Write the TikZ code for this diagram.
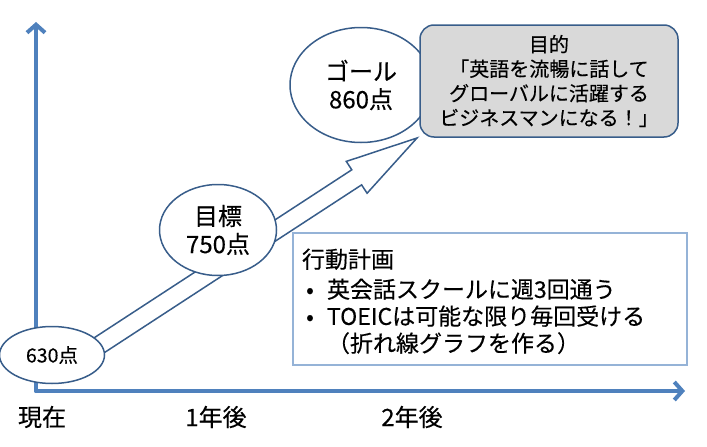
\documentclass[tikz,border=0pt]{standalone}
\usepackage{fontspec}
\setmainfont[FakeBold=0.3]{Noto Sans CJK JP}
\usetikzlibrary{shapes.geometric,arrows.meta,calc}
\definecolor{axisblue}{HTML}{4F81BD}
\definecolor{edgeblue}{HTML}{385D8A}
\definecolor{planedge}{HTML}{95B3D7}
\definecolor{goalgray}{HTML}{D9D9D9}
\begin{document}
\begin{tikzpicture}[x=1pt,y=-1pt,
  axisline/.style={draw=axisblue,line width=4pt,-{Straight Barb[length=8pt,width=18pt]},line cap=round,line join=round},
  scoreell/.style={ellipse,draw=edgeblue,fill=white,line width=1.5pt,inner sep=0pt,align=center,font=\fontsize{24pt}{28pt}\selectfont},
  blockarrow/.style={draw=edgeblue,fill=white,line width=1.5pt,line join=miter},
  goalbox/.style={rectangle,rounded corners=14pt,draw=edgeblue,fill=goalgray,line width=1.5pt,minimum width=258pt,minimum height=112pt,align=center,font=\fontsize{20pt}{24.5pt}\selectfont},
  planbox/.style={rectangle,draw=planedge,fill=white,line width=1.3pt,minimum width=394pt,minimum height=132pt,inner xsep=9pt,text width=376pt,align=left,font=\fontsize{23pt}{27pt}\selectfont},
  axislabel/.style={font=\fontsize{24pt}{28pt}\selectfont,inner sep=0pt}
]
\useasboundingbox (0,0) rectangle (707,447);
% axes
\coordinate (origin) at (36,391);
\coordinate (ytop) at (36,22);
\coordinate (xend) at (685,391);
\draw[axisline] (origin) -- (ytop);
\draw[axisline] (origin) -- (xend);
% block arrow
\coordinate (tl) at (72,363);
\coordinate (tp) at (417,138);
\coordinate (hb) at ($(tp)!72pt!(tl)$);
\draw[blockarrow] ($(tl)!9pt!90:(tp)$) -- ($(hb)!9pt!90:(tp)$) -- ($(hb)!19pt!90:(tp)$) -- (tp) -- ($(hb)!19pt!-90:(tp)$) -- ($(hb)!9pt!-90:(tp)$) -- ($(tl)!9pt!-90:(tp)$) -- cycle;
% score ellipses
\node[scoreell,minimum width=105pt,minimum height=57pt,font=\fontsize{19.5pt}{22pt}\selectfont] (now) at (52,355) {630点};
\node[scoreell,minimum width=117pt,minimum height=91pt] (mid) at (218,230) {目標\\750点};
\node[scoreell,minimum width=142pt,minimum height=115pt] (goal) at (361,85) {ゴール\\860点};
% purpose box
\node[goalbox] (purpose) at (549,81) {目的\\「英語を流暢に話して\\グローバルに活躍する\\ビジネスマンになる！」};
% plan box
\node[planbox] (plan) at (490,299) {\rule{0pt}{24pt}行動計画\\[3pt]
\makebox[16pt][c]{•}\hspace{9pt}英会話スクールに週3回通う\\
\makebox[16pt][c]{•}\hspace{9pt}TOEICは可能な限り毎回受ける\\
\hspace{25pt}（折れ線グラフを作る）};
% axis labels
\node[axislabel] (t0) at (42,417) {現在};
\node[axislabel] (t1) at (216,417) {1年後};
\node[axislabel] (t2) at (412,417) {2年後};
\end{tikzpicture}
\end{document}
